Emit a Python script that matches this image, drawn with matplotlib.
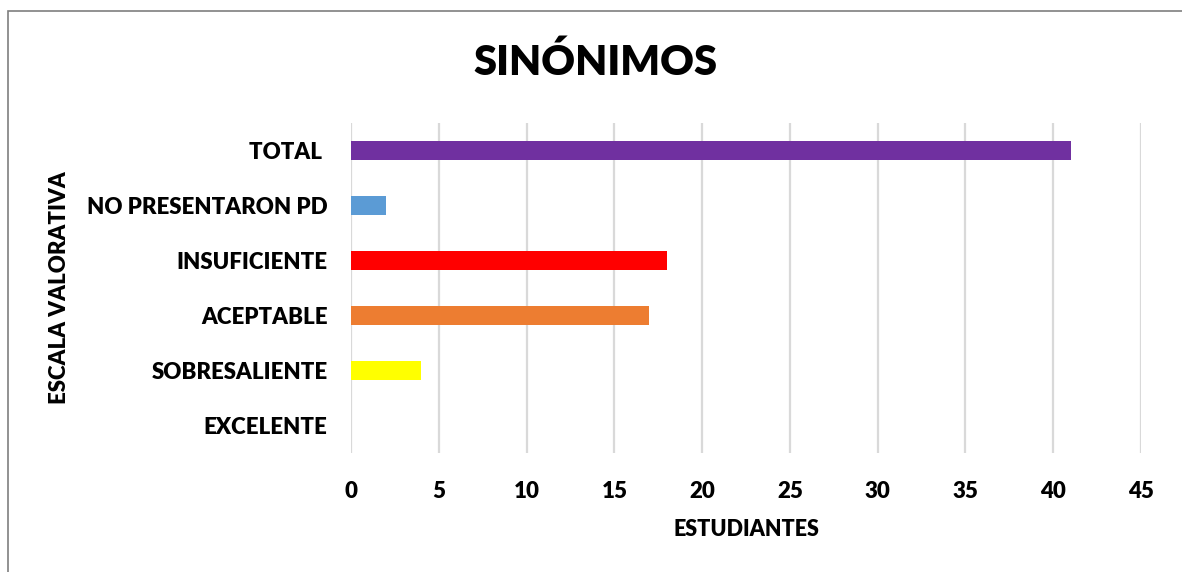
import matplotlib
matplotlib.use("Agg")
import matplotlib.pyplot as plt
from matplotlib.patches import Rectangle

categories = ["EXCELENTE", "SOBRESALIENTE", "ACEPTABLE", "INSUFICIENTE", "NO PRESENTARON PD", "TOTAL "]
values = [0, 4, 17, 18, 2, 41]
colors = ["#4472C4", "#FFFF00", "#ED7D31", "#FF0000", "#5B9BD5", "#7030A0"]
xticks = [0, 5, 10, 15, 20, 25, 30, 35, 40, 45]
title = "SINÓNIMOS"
xlabel = "ESTUDIANTES"
ylabel = "ESCALA VALORATIVA"

plt.rcParams['font.family'] = ['Lato', 'DejaVu Sans']

W, H = 1182, 572
fig = plt.figure(figsize=(W/100, H/100), dpi=100)
ax = fig.add_axes([351/W, 1-453/H, (1141-351)/W, (453-123)/H])

WT = 'heavy'
ypos = list(range(len(categories)))
ax.barh(ypos, values, height=0.36, color=colors, zorder=3)
ax.set_ylim(-0.5, len(categories)-0.5)
ax.set_xlim(0, 45)
ax.set_xticks(xticks)
ax.set_xticklabels([str(t) for t in xticks], fontsize=16, fontweight=WT)
ax.set_yticks(ypos)
ax.set_yticklabels(categories, fontsize=16, fontweight=WT)
ax.tick_params(axis='both', length=0)
ax.tick_params(axis='x', pad=20)
ax.tick_params(axis='y', pad=17)
ax.grid(axis='x', color='#d9d9d9', linewidth=1.6, zorder=0)
for s in ax.spines.values():
    s.set_visible(False)

fig.text(595/W, 1-62/H, title, ha='center', va='center', fontsize=30, fontweight=WT)
fig.text(746/W, 1-530/H, xlabel, ha='center', va='center', fontsize=15.5, fontweight=WT)
fig.text(60/W, 1-288/H, ylabel, ha='center', va='center', rotation=90, fontsize=16, fontweight=WT)

fig.patches.append(Rectangle((8/W, -0.1), 1.2, 1-11/H+0.1, transform=fig.transFigure,
                             fill=False, edgecolor='#7f7f7f', linewidth=1.2))

fig.savefig("out.png", dpi=100)
